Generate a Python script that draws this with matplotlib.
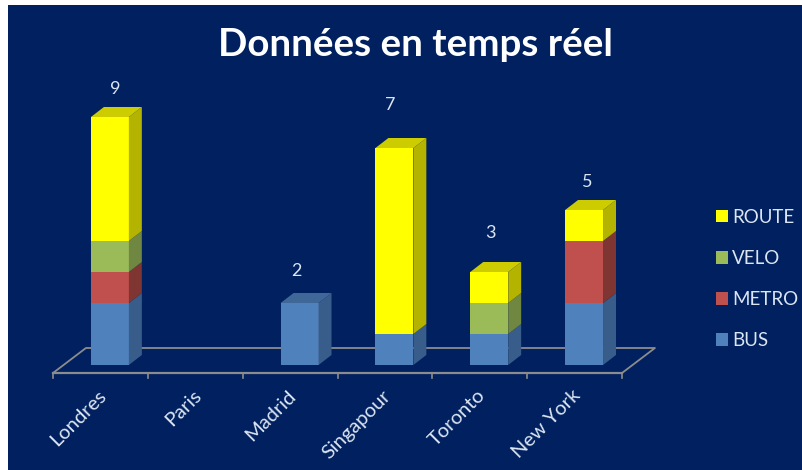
import matplotlib.pyplot as plt
from matplotlib.patches import Patch, Polygon, Rectangle

cities = ['Londres', 'Paris', 'Madrid', 'Singapour', 'Toronto', 'New York']
bus = [2, 0, 2, 1, 1, 2]
metro = [1, 0, 0, 0, 0, 2]
velo = [1, 0, 0, 0, 1, 0]
route = [4, 0, 0, 6, 1, 1]
totals = [9, None, 2, 7, 3, 5]

series = [('BUS', bus), ('METRO', metro), ('VELO', velo), ('ROUTE', route)]
front = {'BUS': '#4F81BD', 'METRO': '#C0504D', 'VELO': '#9BBB59', 'ROUTE': '#FFFF00'}
side = {'BUS': '#385D8A', 'METRO': '#7F3531', 'VELO': '#6F8740', 'ROUTE': '#B3B300'}
top = {'BUS': '#3F6797', 'METRO': '#943E3B', 'VELO': '#7C9647', 'ROUTE': '#CCCC00'}
navy = '#002060'
txt = '#DCE6F2'

W, H = 802, 470
plt.rcParams['font.family'] = ['Lato', 'DejaVu Sans']

fig = plt.figure(figsize=(W / 100, H / 100), dpi=100, facecolor='white')
fig.add_artist(Rectangle((8 / W, 0), 1, 1 - 5 / H, transform=fig.transFigure,
                         facecolor=navy, edgecolor='none', zorder=-1))
fig.text(415 / W, 1 - 45 / H, 'Données en temps réel', color='white', fontsize=27.7,
         fontweight='bold', ha='center', va='center')

# 1 categorie = 95 px, 1 unite = 31 px
ax = fig.add_axes([53 / W, 1 - 373 / H, 569 / W, 310 / H])
ax.set_xlim(0, 6)
floor = -8 / 31
ax.set_ylim(floor, 10 + floor)
ax.axis('off')

grey = '#8C8C8C'
dx_floor, dy_floor = 33 / 95, 25 / 31
ax.plot([0, dx_floor, 6 + dx_floor, 6], [floor, floor + dy_floor, floor + dy_floor, floor],
        color=grey, lw=1.3, clip_on=False, zorder=1)
ax.plot([0, 6], [floor, floor], color=grey, lw=1.6, clip_on=False, zorder=1)
for i in range(7):
    ax.plot([i, i], [floor, floor - 5 / 31], color=grey, lw=1.2, clip_on=False, zorder=1)

width = 38 / 95
shift = 38 / 95
dx, dy = 13 / 95, 10 / 31

for i in range(len(cities)):
    bottom = 0
    for name, values in series:
        v = values[i]
        if v == 0:
            continue
        x0 = i + shift
        x1 = x0 + width
        ax.bar(x0, v, width, bottom=bottom, align='edge', color=front[name], zorder=3)
        ax.add_patch(Polygon([(x1, bottom), (x1 + dx, bottom + dy), (x1 + dx, bottom + v + dy),
                              (x1, bottom + v)], facecolor=side[name], edgecolor='none', zorder=3))
        bottom += v
    if bottom > 0:
        last = [s[0] for s in series if s[1][i] > 0][-1]
        ax.add_patch(Polygon([(x0, bottom), (x0 + dx, bottom + dy), (x1 + dx, bottom + dy),
                              (x1, bottom)], facecolor=top[last], edgecolor='none', zorder=3))

# decalage des etiquettes, en pixels
label_dx = [5, 0, -3, -4, 1, 3]
label_dy = [28, 0, 32, 43, 39, 28]
for i, t in enumerate(totals):
    if t is None:
        continue
    h = bus[i] + metro[i] + velo[i] + route[i]
    ax.annotate(str(t), (i + shift + width / 2, h), xytext=(label_dx[i] * 0.72, label_dy[i] * 0.72),
                textcoords='offset points', color=txt, fontsize=13, ha='center', va='center')

for i, c in enumerate(cities):
    ax.annotate(c, (i + 0.5, floor), xytext=(-2, -10), textcoords='offset points', color=txt,
                fontsize=14.5, rotation=45, rotation_mode='anchor', ha='right', va='top')

handles = [Patch(facecolor=front[n], edgecolor='none', label=n) for n, _ in reversed(series)]
fig.legend(handles=handles, loc='center left', bbox_to_anchor=(716 / W, 1 - 279 / H), frameon=False,
           labelcolor=txt, fontsize=13.5, labelspacing=1.29, handlelength=0.65, handleheight=0.65,
           handletextpad=0.2, borderpad=0, borderaxespad=0)

fig.savefig('out.png', dpi=100, facecolor='white')
